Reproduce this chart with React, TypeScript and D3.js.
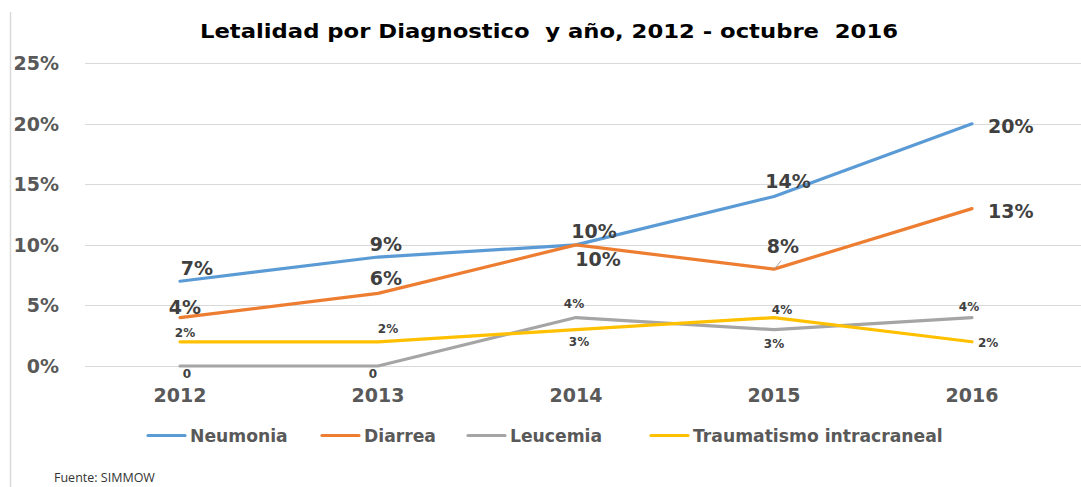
import React from "react";
import * as d3 from "d3";

const years = ["2012", "2013", "2014", "2015", "2016"];
const neumonia = [0.07, 0.09, 0.10, 0.14, 0.20];
const diarrea = [0.04, 0.06, 0.10, 0.08, 0.13];
const leucemia = [0, 0, 0.04, 0.03, 0.04];
const traumatismo = [0.02, 0.02, 0.03, 0.04, 0.02];
const leucemiaLabels = ["0", "0", "4%", "3%", "4%"];
const seriesNames = ["Neumonia", "Diarrea", "Leucemia", "Traumatismo intracraneal"];
const yTicks = [0, 0.05, 0.1, 0.15, 0.2, 0.25];
const title = "Letalidad por Diagnostico  y año, 2012 - octubre  2016";
const source = "Fuente: SIMMOW";

const W = 1081;
const H = 487;
const FONT = "'DejaVu Sans', 'Open Sans', sans-serif";

type Place = "above" | "below" | "right";

export default function App() {
  const x = d3.scalePoint<string>().domain(years).range([180, 972]);
  const y = d3.scaleLinear().domain([0, 0.25]).range([366, 63.3]);
  const pct = d3.format(".0%");

  const series = [
    { name: seriesNames[0], values: neumonia, color: "#5B9BD5", big: true,
      labels: neumonia.map(pct),
      place: ["above", "above", "above", "above", "right"] as Place[],
      off: [[17, -6], [8, -6], [18, -7], [14, -8], [16, 9]] },
    { name: seriesNames[1], values: diarrea, color: "#ED7D31", big: true,
      labels: diarrea.map(pct),
      place: ["above", "above", "below", "above", "right"] as Place[],
      off: [[5, -4], [8, -8], [22, 21], [9, -16], [16, 9]] },
    { name: seriesNames[2], values: leucemia, color: "#A5A5A5", big: false,
      labels: leucemiaLabels,
      place: ["below", "below", "above", "below", "above"] as Place[],
      off: [[7, 12], [-5, 12], [-2, -10], [0, 18], [-3, -7]] },
    { name: seriesNames[3], values: traumatismo, color: "#FFC000", big: false,
      labels: traumatismo.map(pct),
      place: ["above", "above", "below", "above", "right"] as Place[],
      off: [[5, -4.5], [10, -9], [3, 16], [8, -4], [6, 5.5]] },
  ];

  const line = d3
    .line<number>()
    .x((_, i) => x(years[i]) as number)
    .y((v) => y(v));

  const legendX = [148, 322, 468, 651];

  return (
    <svg
      width={W}
      height={H}
      style={{ position: "absolute", left: 0, top: 0, background: "#fff" }}
      fontFamily={FONT}
    >
      <rect x={0} y={0} width={W} height={H} fill="#fff" />
      <line x1={10.5} x2={10.5} y1={12} y2={H} stroke="#d9d9d9" strokeWidth={1.5} />
      <text
        x={549}
        y={38}
        textAnchor="middle"
        fontSize={19}
        fontWeight="bold"
        fill="#000"
        textLength={698}
        lengthAdjust="spacingAndGlyphs"
        style={{ whiteSpace: "pre" }}
      >
        {title}
      </text>

      {yTicks.map((t) => (
        <g key={t}>
          <line x1={85} x2={W} y1={Math.round(y(t)) + 0.5} y2={Math.round(y(t)) + 0.5} stroke="#d9d9d9" strokeWidth={1} />
          <text
            x={59}
            y={y(t)}
            dy="0.36em"
            textAnchor="end"
            fontSize={19}
            fontWeight="bold"
            fill="#595959"
          >
            {pct(t)}
          </text>
        </g>
      ))}

      {years.map((yr) => (
        <text
          key={yr}
          x={x(yr)}
          y={402}
          textAnchor="middle"
          fontSize={19}
          fontWeight="bold"
          fill="#595959"
        >
          {yr}
        </text>
      ))}

      {series.map((s) => (
        <path
          key={s.name}
          d={line(s.values) || ""}
          fill="none"
          stroke={s.color}
          strokeWidth={3.2}
          strokeLinecap="round"
          strokeLinejoin="round"
        />
      ))}

      {/* leader line for Diarrea 2015 */}
      <line
        x1={(x("2015") as number) + 0.5}
        y1={y(diarrea[3])}
        x2={(x("2015") as number) + 7}
        y2={y(diarrea[3]) - 8.5}
        stroke="#a6a6a6"
        strokeWidth={1}
      />

      {series.map((s) =>
        s.values.map((v, i) => {
          const px = x(years[i]) as number;
          const py = y(v);
          const [dx, dy] = s.off[i];
          const p = s.place[i];
          return (
            <text
              key={s.name + i}
              x={px + dx}
              y={py + dy}
              textAnchor={p === "right" ? "start" : "middle"}
              fontSize={s.big ? 19 : 12}
              fontWeight="bold"
              fill="#404040"
            >
              {s.labels[i]}
            </text>
          );
        })
      )}

      {series.map((s, i) => (
        <g key={"lg" + s.name}>
          <line
            x1={legendX[i]}
            x2={legendX[i] + 37}
            y1={435.5}
            y2={435.5}
            stroke={s.color}
            strokeWidth={3.2}
            strokeLinecap="round"
          />
          <text
            x={legendX[i] + 42}
            y={435.5}
            dy="0.36em"
            fontSize={17.2}
            fontWeight="bold"
            fill="#595959"
          >
            {s.name}
          </text>
        </g>
      ))}

      <text x={54} y={482} fontSize={12.5} fill="#333" fontFamily="'Open Sans', sans-serif" style={{ whiteSpace: "pre" }}>
        {source}
      </text>
    </svg>
  );
}
